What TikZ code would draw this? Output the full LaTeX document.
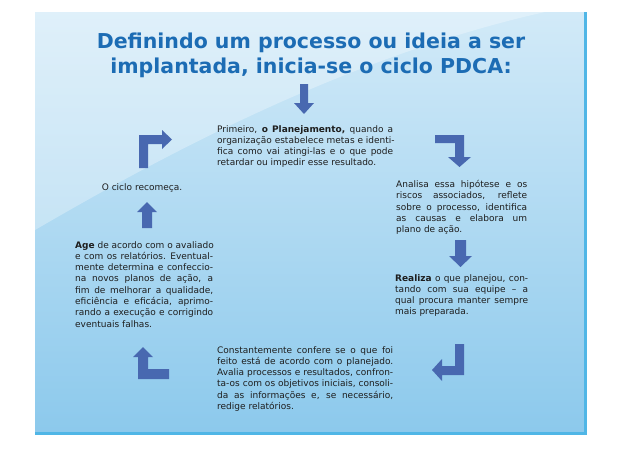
\documentclass[tikz,border=0pt]{standalone}
\usepackage{fontspec}
\setmainfont{DejaVu Sans}
\definecolor{bgtop}{RGB}{210,234,248}
\definecolor{bgbot}{RGB}{140,201,236}
\definecolor{bordc}{RGB}{80,182,230}
\definecolor{arrowc}{RGB}{72,104,176}
\definecolor{titlec}{RGB}{28,108,180}
\definecolor{txt}{RGB}{30,30,30}
\newcommand\jline[1]{\hbox to \hsize{#1}}
\newcommand\lline[1]{\hbox to \hsize{#1\hfil}}
\newcommand\lines[1]{\vbox{\spaceskip=\fontdimen2\font plus 10em\relax #1}}
\tikzset{
  body/.style={anchor=north west, inner sep=0pt, text width=#1, text=txt,
    font=\fontsize{9}{11.3}\selectfont},
  titlestyle/.style={align=center, inner sep=0pt, text=titlec,
    font=\fontsize{20.5}{25}\selectfont\bfseries},
  blockarrow/.style={fill=arrowc}
}
\begin{document}
\begin{tikzpicture}[x=1pt,y=-1pt]
\useasboundingbox (0,0) rectangle (618,450);
\fill[white] (0,0) rectangle (618,450);
% background panel
\shade[top color=bgtop, bottom color=bgbot] (35,12) rectangle (585,433);
\fill[white, opacity=0.3] (35,12) -- (35,230) .. controls (130,175) and (330,60) .. (545,12) -- cycle;
\draw[bordc, line width=3pt] (585,12) -- (585,433) -- (35,433);

% title
\node[titlestyle] (title) at (311,55) {Definindo um processo ou ideia a ser\\implantada, inicia-se o ciclo PDCA:};

% text blocks
\node[body=176pt] (plan) at (217,125) {\lines{%
\jline{Primeiro, \textbf{o Planejamento,} quando a}%
\jline{organização estabelece metas e identi-}%
\jline{fica como vai atingi-las e o que pode}%
\lline{retardar ou impedir esse resultado.}}};

\node[body=131pt] (anal) at (396,180) {\lines{%
\jline{Analisa essa hipótese e os}%
\jline{riscos associados, reflete}%
\jline{sobre o processo, identifica}%
\jline{as causas e elabora um}%
\lline{plano de ação.}}};

\node[body=133pt] (realiza) at (395,274) {\lines{%
\jline{\textbf{Realiza} o que planejou, con-}%
\jline{tando com sua equipe – a}%
\jline{qual procura manter sempre}%
\lline{mais preparada.}}};

\node[body=176pt] (confere) at (217,346) {\lines{%
\jline{Constantemente confere se o que foi}%
\jline{feito está de acordo com o planejado.}%
\jline{Avalia processos e resultados, confron-}%
\jline{ta-os com os objetivos iniciais, consoli-}%
\jline{da as informações e, se necessário,}%
\lline{redige relatórios.}}};

\node[body=138pt] (age) at (75,241) {\lines{%
\jline{\textbf{Age} de acordo com o avaliado}%
\jline{e com os relatórios. Eventual-}%
\jline{mente determina e confeccio-}%
\jline{na novos planos de ação, a}%
\jline{fim de melhorar a qualidade,}%
\jline{eficiência e eficácia, aprimo-}%
\jline{rando a execução e corrigindo}%
\lline{eventuais falhas.}}};

\node[inner sep=0pt, text=txt, font=\fontsize{9}{11.3}\selectfont] (recomeca) at (142,188) {O ciclo recomeça.};

% block arrows
\fill[blockarrow] (300,84) -- (308,84) -- (308,103) -- (314,103) -- (304,114) -- (294,103) -- (300,103) -- cycle;
\fill[blockarrow] (435,135) -- (464,135) -- (464,157) -- (471,157) -- (459.5,167) -- (448,157) -- (455,157) -- (455,143) -- (435,143) -- cycle;
\fill[blockarrow] (455,240) -- (466,240) -- (466,256) -- (472,256) -- (460.5,267) -- (449,256) -- (455,256) -- cycle;
\fill[blockarrow] (455,344) -- (464,344) -- (464,375) -- (442,375) -- (442,381) -- (432,370) -- (442,359) -- (442,366) -- (455,366) -- cycle;
\fill[blockarrow] (143,347) -- (153,357) -- (148,357) -- (148,369) -- (169,369) -- (169,379) -- (138,379) -- (138,357) -- (133,357) -- cycle;
\fill[blockarrow] (147,202) -- (157,212) -- (152,212) -- (152,228) -- (142,228) -- (142,212) -- (137,212) -- cycle;
\fill[blockarrow] (139,168) -- (139,135) -- (162,135) -- (162,130) -- (172,139.5) -- (162,149) -- (162,144) -- (148,144) -- (148,168) -- cycle;
\end{tikzpicture}
\end{document}
